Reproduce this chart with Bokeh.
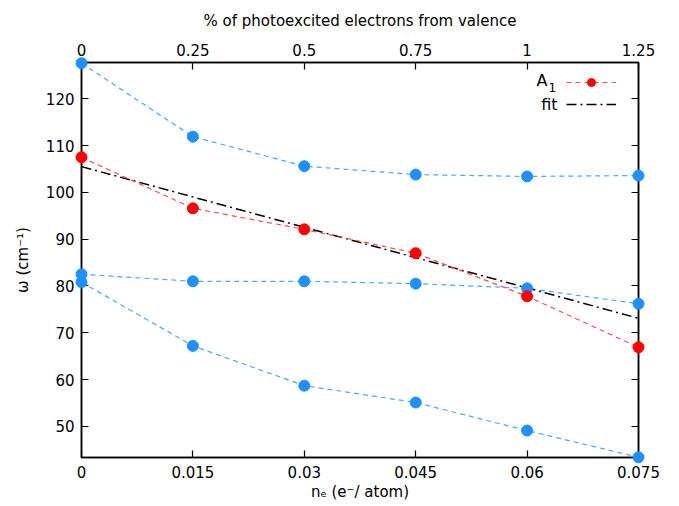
from bokeh.plotting import figure
from bokeh.models import Range1d, LinearAxis, FixedTicker, Legend, LegendItem, Label
from bokeh.embed import file_html
from bokeh.resources import INLINE

# ---- data ----
ne = [0.0, 0.015, 0.03, 0.045, 0.06, 0.075]
mode_top = [127.6, 111.9, 105.6, 103.8, 103.4, 103.6]
mode_mid = [82.5, 81.0, 81.0, 80.5, 79.5, 76.2]
mode_low = [80.8, 67.2, 58.7, 55.1, 49.1, 43.4]
a1 = [107.5, 96.6, 92.1, 87.0, 77.8, 66.9]
fit_x = [0.0, 0.075]
fit_y = [105.5, 73.1]

x_ticks = [0.0, 0.015, 0.03, 0.045, 0.06, 0.075]
x_tick_labels = ["0", "0.015", "0.03", "0.045", "0.06", "0.075"]
top_ticks = [0.0, 0.25, 0.5, 0.75, 1.0, 1.25]
top_tick_labels = ["0", "0.25", "0.5", "0.75", "1", "1.25"]
y_ticks = [50, 60, 70, 80, 90, 100, 110, 120]

FONT = "DejaVu Sans"
FS = "15px"
BLUE = "#1e90ff"
BLUE_LINE = "#4aa8ff"
RED = "#ff0000"
RED_LINE = "#ff4d4d"

p = figure(width=679, height=506,
           x_range=Range1d(0, 0.075), y_range=Range1d(43.35, 127.75),
           output_backend="svg", toolbar_location=None,
           x_axis_location=None, y_axis_location=None,
           min_border_left=81, min_border_right=41,
           min_border_top=62, min_border_bottom=49)
p.extra_x_ranges = {"pct": Range1d(0, 1.25)}
p.xgrid.visible = False
p.ygrid.visible = False
p.outline_line_color = "black"
p.outline_line_width = 1.5
p.background_fill_color = "white"
p.border_fill_color = "white"


def style(ax):
    ax.major_tick_in = 7
    ax.major_tick_out = 0
    ax.minor_tick_line_color = None
    ax.axis_line_color = "black"
    ax.axis_line_width = 1.5
    ax.major_tick_line_color = "black"
    ax.major_tick_line_width = 1.2
    ax.major_label_text_font = FONT
    ax.major_label_text_font_size = FS
    ax.major_label_text_color = "black"
    ax.axis_label_text_font = FONT
    ax.axis_label_text_font_size = "15px"
    ax.axis_label_text_font_style = "normal"
    ax.axis_label_text_color = "black"


bottom = LinearAxis(ticker=FixedTicker(ticks=x_ticks),
                    major_label_overrides={t: l for t, l in zip(x_ticks, x_tick_labels)},
                    axis_label="nₑ (e⁻/ atom)")
style(bottom)
bottom.major_label_standoff = 8
bottom.axis_label_standoff = 2
p.add_layout(bottom, "below")

top = LinearAxis(x_range_name="pct", ticker=FixedTicker(ticks=top_ticks),
                 major_label_overrides={t: l for t, l in zip(top_ticks, top_tick_labels)},
                 axis_label="% of photoexcited electrons from valence")
style(top)
top.major_label_standoff = 7
top.axis_label_standoff = 11
p.add_layout(top, "above")

left = LinearAxis(ticker=FixedTicker(ticks=y_ticks), axis_label="ω (cm⁻¹)")
style(left)
left.major_label_standoff = 7
left.axis_label_standoff = 11
p.add_layout(left, "left")

right = LinearAxis(ticker=FixedTicker(ticks=y_ticks))
style(right)
right.major_label_text_color = None
p.add_layout(right, "right")

# ---- series ----
for ys in (mode_top, mode_mid, mode_low):
    p.line(ne, ys, line_color=BLUE_LINE, line_width=1.2, line_dash="5 4")
r_fit = p.line(fit_x, fit_y, line_color="black", line_width=1.5, line_dash="10 4 2 4")
r_a1_line = p.line(ne, a1, line_color=RED_LINE, line_width=1.2, line_dash="5 4")
for ys in (mode_top, mode_mid, mode_low):
    p.scatter(ne, ys, size=11, fill_color=BLUE, line_color=BLUE, level="overlay")
r_a1_pts = p.scatter(ne, a1, size=11, fill_color=RED, line_color=RED, level="overlay")

legend = Legend(items=[LegendItem(label=" ", renderers=[r_a1_line, r_a1_pts]),
                       LegendItem(label=" ", renderers=[r_fit])],
                location=(485, 343), glyph_width=50, glyph_height=20,
                label_width=0, label_standoff=0, label_height=20,
                spacing=2, padding=0, margin=0,
                border_line_color=None, background_fill_alpha=0,
                label_text_font_size="1px")
p.add_layout(legend)

p.add_layout(Label(x=466, y=377, x_units="screen", y_units="screen", text="A",
                   text_align="right", text_baseline="middle",
                   text_font=FONT, text_font_size="16px", text_color="black"))
p.add_layout(Label(x=467, y=370, x_units="screen", y_units="screen", text="1",
                   text_align="left", text_baseline="middle",
                   text_font=FONT, text_font_size="12px", text_color="black"))
p.add_layout(Label(x=476, y=353, x_units="screen", y_units="screen", text="fit",
                   text_align="right", text_baseline="middle",
                   text_font=FONT, text_font_size="16px", text_color="black"))

open("out.html", "w").write(file_html(p, INLINE))
